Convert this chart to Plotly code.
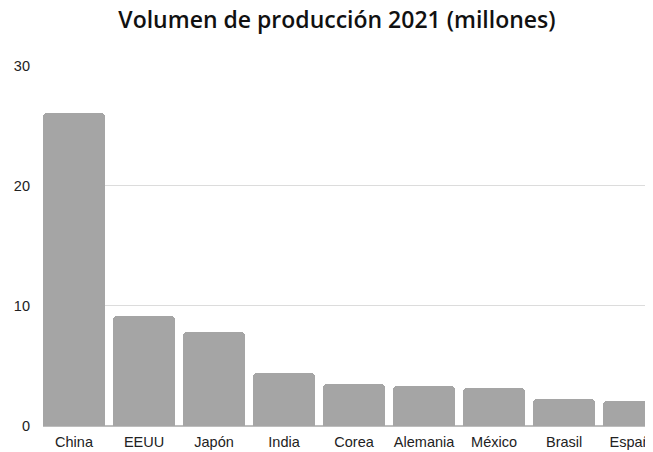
import plotly.graph_objects as go

paises = ["China", "EEUU", "Japón", "India", "Corea", "Alemania", "México", "Brasil", "España"]
volumen = [26.08, 9.17, 7.85, 4.40, 3.46, 3.31, 3.15, 2.25, 2.10]
y_ticks = [0, 10, 20, 30]

fig = go.Figure(go.Bar(
    x=list(range(len(paises))), y=volumen,
    marker=dict(color="#a5a5a5", cornerradius=4, line=dict(width=0)),
    width=0.886,
))

# page body has an 8px margin, so the figure is sized to fit the window
fig.update_layout(
    width=645, height=444,
    margin=dict(l=35, r=0, t=57, b=26, autoexpand=False),
    paper_bgcolor="white", plot_bgcolor="white",
    title=dict(text="Volumen de producción 2021 (millones)", x=0.510, xanchor="center",
               y=0.973, yanchor="middle",
               font=dict(family="Open Sans", size=23, weight=600, color="#111")),
    showlegend=False,
    bargap=0,
)
fig.update_xaxes(
    range=[-0.443, 8.27], automargin=False,
    tickmode="array", tickvals=list(range(len(paises))), ticktext=paises,
    showgrid=False, showline=False, zeroline=False,
    ticks="", ticklabelstandoff=5, ticklabeloverflow="allow",
    tickfont=dict(family="Liberation Sans", size=14.5, color="#222"),
)
fig.update_yaxes(
    range=[0, 30.05], automargin=False, tickmode="array", tickvals=y_ticks,
    showgrid=True, gridcolor="#dcdcdc", gridwidth=1,
    zeroline=True, zerolinecolor="#bdbdbd", zerolinewidth=2,
    showline=False, ticks="", ticklabelstandoff=12,
    tickfont=dict(family="Liberation Sans", size=14.5, color="#222"),
)

fig.write_html("out.html")
